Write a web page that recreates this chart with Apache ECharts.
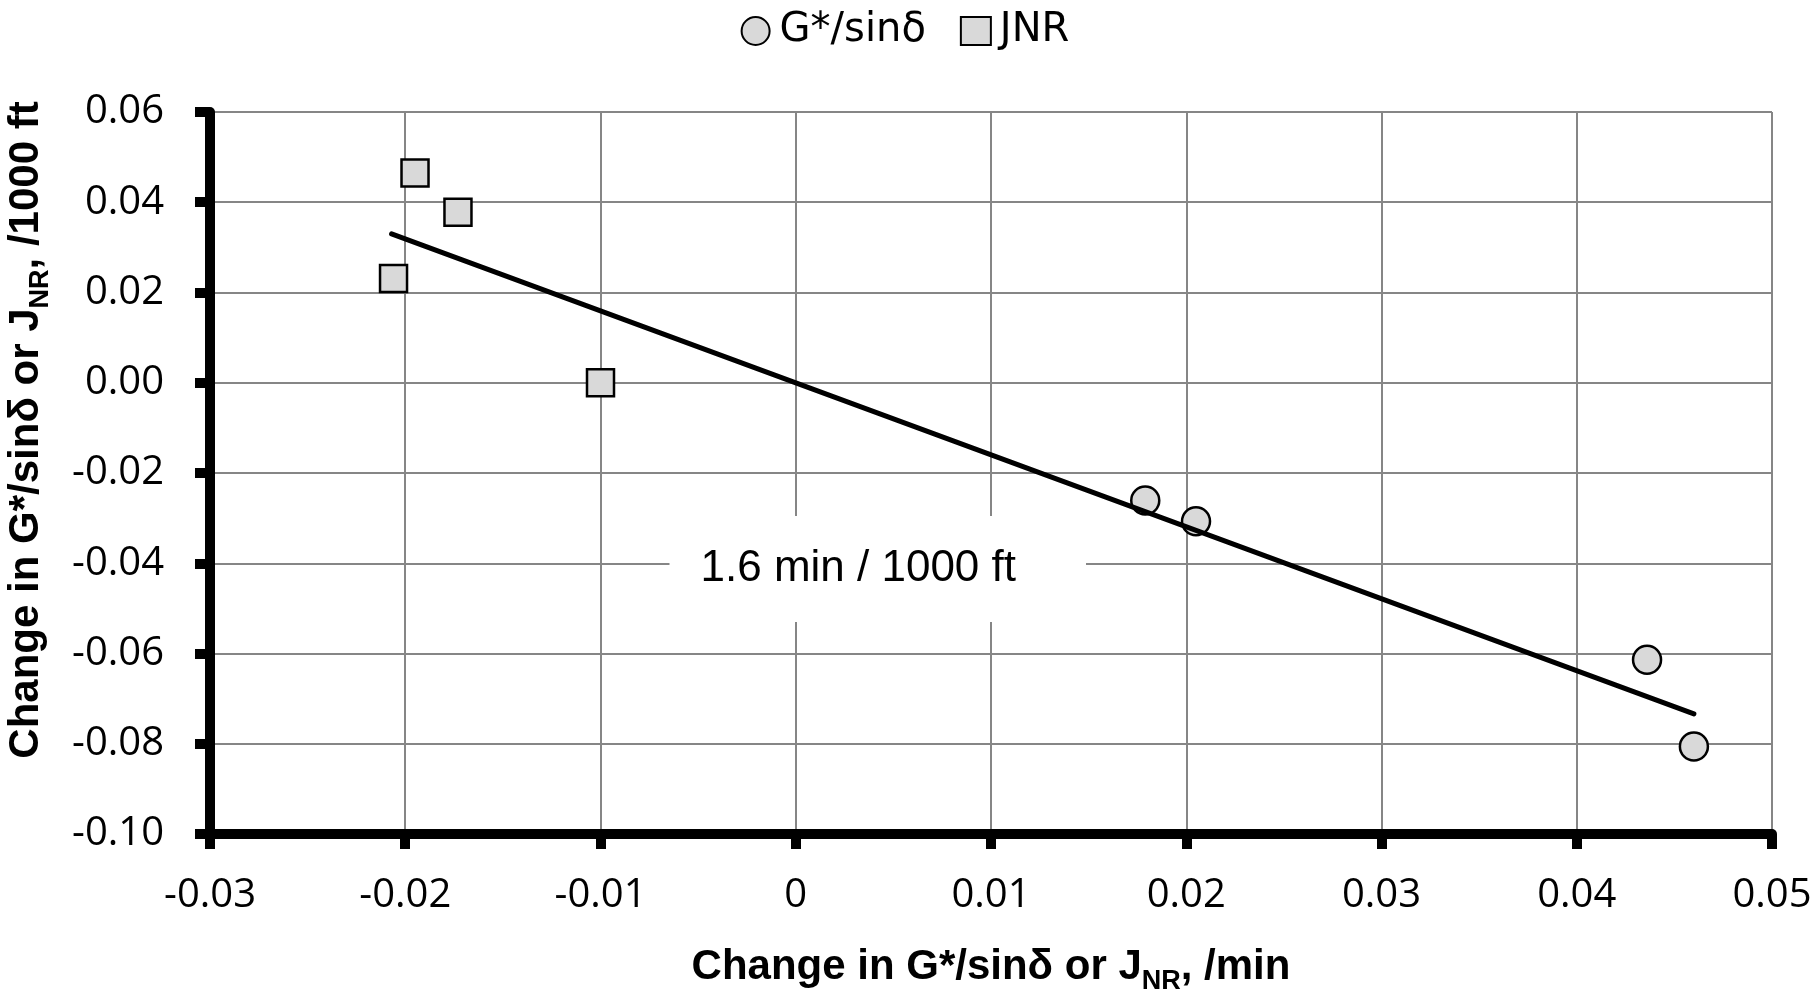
<!DOCTYPE html>
<html>
<head>
<meta charset="utf-8">
<script src="https://cdn.jsdelivr.net/npm/echarts@6/dist/echarts.min.js"></script>
<style>
  html, body { margin: 0; padding: 0; background: #ffffff; }
  #chart { width: 1810px; height: 991px; }
</style>
</head>
<body>
<div id="chart"></div>
<script>
// ---- Data ----
const seriesNames = ['G*/sinδ', 'JNR'];
const gX = [0.0179, 0.0205, 0.0436, 0.0460];
const gY = [-0.0261, -0.0307, -0.0614, -0.0806];
const jX = [-0.0195, -0.0173, -0.0206, -0.0100];
const jY = [0.0465, 0.0378, 0.0231, 0.0000];
const trendX = [-0.0207, 0.0460];
const trendY = [0.0330, -0.0734];
const xTickLabels = ['-0.03', '-0.02', '-0.01', '0', '0.01', '0.02', '0.03', '0.04', '0.05'];
const yTickLabels = ['-0.10', '-0.08', '-0.06', '-0.04', '-0.02', '0.00', '0.02', '0.04', '0.06'];
const annotText = '1.6 min / 1000 ft';
const annotPos = [0.0042, -0.0413];

const xMin = -0.03, xMax = 0.05, xStep = 0.01;
const yMin = -0.10, yMax = 0.06, yStep = 0.02;

const zip = (a, b) => a.map((v, i) => [v, b[i]]);

const chart = echarts.init(document.getElementById('chart'), null, { renderer: 'canvas' });

const tickFont = 'Open Sans';
const legendFont = 'DejaVu Sans';
const titleFont = 'Liberation Sans';

chart.setOption({
  animation: false,
  backgroundColor: '#ffffff',
  legend: {
    data: seriesNames,
    top: 6,
    left: 'center',
    itemWidth: 30,
    itemHeight: 28,
    itemGap: 34,
    textStyle: { fontFamily: legendFont, fontSize: 40, color: '#000000', padding: [0, 0, 0, 4] }
  },
  grid: {
    left: 210, right: 38, top: 112, bottom: 157,
    containLabel: false,
    outerBoundsMode: 'none'
  },
  xAxis: {
    type: 'value',
    min: xMin, max: xMax, interval: xStep,
    axisLine: { show: true, onZero: false, lineStyle: { color: '#000000', width: 10 } },
    axisTick: { show: true, inside: false, length: 15, lineStyle: { color: '#000000', width: 10 } },
    axisLabel: {
      margin: 42,
      fontFamily: tickFont, fontSize: 40, color: '#000000',
      formatter: v => xTickLabels[Math.round((v - xMin) / xStep)]
    },
    splitLine: { show: true, lineStyle: { color: '#868686', width: 2 } }
  },
  yAxis: {
    type: 'value',
    min: yMin, max: yMax, interval: yStep,
    axisLine: { show: true, onZero: false, lineStyle: { color: '#000000', width: 10 } },
    axisTick: { show: true, inside: false, length: 15, lineStyle: { color: '#000000', width: 10 } },
    axisLabel: {
      margin: 46,
      fontFamily: tickFont, fontSize: 40, color: '#000000',
      formatter: v => yTickLabels[Math.round((v - yMin) / yStep)]
    },
    splitLine: { show: true, lineStyle: { color: '#868686', width: 2 } }
  },
  series: [
    {
      name: seriesNames[0],
      type: 'scatter',
      symbol: 'circle',
      symbolSize: 28,
      data: zip(gX, gY),
      itemStyle: { color: '#d9d9d9', borderColor: '#000000', borderWidth: 2.5, opacity: 1 },
      z: 3
    },
    {
      name: seriesNames[1],
      type: 'scatter',
      symbol: 'rect',
      symbolSize: 27,
      data: zip(jX, jY),
      itemStyle: { color: '#d9d9d9', borderColor: '#000000', borderWidth: 2.5, opacity: 1 },
      z: 3
    },
    {
      name: 'trend',
      type: 'line',
      data: zip(trendX, trendY),
      symbol: 'none',
      lineStyle: { color: '#000000', width: 5, cap: 'round' },
      z: 4,
      silent: true
    },
    {
      name: 'annotation',
      type: 'scatter',
      data: [annotPos],
      symbol: 'circle',
      symbolSize: 1,
      itemStyle: { color: '#ffffff', opacity: 1 },
      silent: true,
      z: 2,
      label: {
        show: true,
        position: 'inside',
        formatter: annotText,
        fontFamily: titleFont,
        fontSize: 44,
        color: '#000000',
        opacity: 1,
        backgroundColor: '#ffffff',
        padding: [31, 70, 31, 31]
      },
      emphasis: { disabled: true }
    }
  ],
  graphic: [
    {
      type: 'text',
      x: 991, y: 967,
      style: {
        text: '{a|Change in G*/sinδ or J}{s|NR}{a|, /min}',
        align: 'center',
        verticalAlign: 'middle',
        rich: {
          a: { fontFamily: titleFont, fontWeight: 'bold', fontSize: 42, lineHeight: 56, verticalAlign: 'middle', fill: '#000' },
          s: { fontFamily: titleFont, fontWeight: 'bold', fontSize: 27, lineHeight: 27, verticalAlign: 'bottom', fill: '#000' }
        }
      }
    },
    {
      type: 'text',
      x: 26, y: 430,
      rotation: Math.PI / 2,
      style: {
        text: '{a|Change in G*/sinδ or J}{s|NR}{a|, /1000 ft}',
        align: 'center',
        verticalAlign: 'middle',
        rich: {
          a: { fontFamily: titleFont, fontWeight: 'bold', fontSize: 42, lineHeight: 56, verticalAlign: 'middle', fill: '#000' },
          s: { fontFamily: titleFont, fontWeight: 'bold', fontSize: 27, lineHeight: 27, verticalAlign: 'bottom', fill: '#000' }
        }
      }
    }
  ]
});
</script>
</body>
</html>
